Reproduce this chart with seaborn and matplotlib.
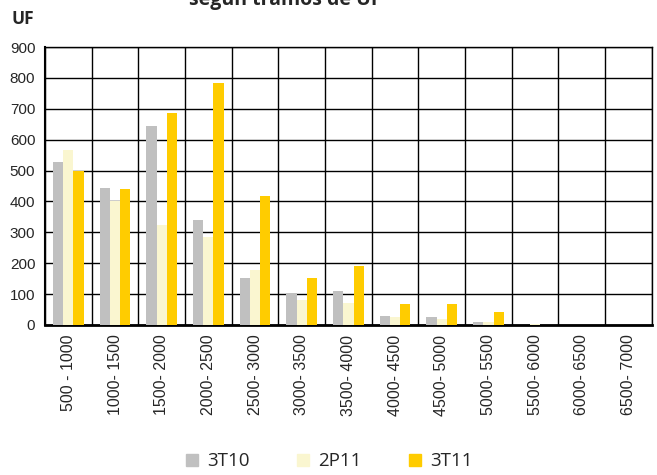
import pandas as pd
import matplotlib.pyplot as plt
import seaborn as sns
import numpy as np

tramos = ["500 - 1000", "1000- 1500", "1500- 2000", "2000- 2500", "2500- 3000",
          "3000- 3500", "3500- 4000", "4000- 4500", "4500- 5000", "5000- 5500",
          "5500- 6000", "6000- 6500", "6500- 7000"]
v_3t10 = [526, 443, 644, 341, 151, 103, 110, 28, 24, 11, 0, 0, 1]
v_2p11 = [565, 400, 324, 286, 179, 81, 70, 27, 19, 9, 3, 1, 1]
v_3t11 = [499, 440, 687, 782, 416, 151, 191, 68, 67, 42, 0, 0, 0]
series = ["3T10", "2P11", "3T11"]
colors = ["#C0C0C0", "#FAF6D0", "#FFCC00"]

df = pd.DataFrame({"tramo": tramos * 3,
                   "serie": np.repeat(series, len(tramos)),
                   "uf": v_3t10 + v_2p11 + v_3t11})

sns.set_style("white")
plt.rcParams['font.family'] = ['Liberation Sans', 'DejaVu Sans']

fig = plt.figure(figsize=(6.57, 4.75), dpi=100)
ax = fig.add_axes([0.0685, 0.316, 0.9235, 0.585])

sns.barplot(data=df, x="tramo", y="uf", hue="serie", palette=colors,
            width=0.66, gap=0, saturation=1, linewidth=0, ax=ax, legend=False, zorder=3)

ax.set_xlim(-0.5, len(tramos) - 0.5)
ax.set_ylim(0, 900)
ax.set_yticks(range(0, 901, 100))
ax.set_xticks(np.arange(-0.5, len(tramos), 1), minor=True)
ax.grid(True, which="minor", axis="x", color="black", lw=1, zorder=0)
ax.grid(True, which="major", axis="y", color="black", lw=1, zorder=0)
ax.tick_params(axis="x", which="major", length=0, labelsize=11.5, rotation=90, pad=7)
ax.tick_params(axis="x", which="minor", length=4, direction="out", color="black", width=1)
ax.tick_params(axis="y", length=4, direction="out", color="black", labelsize=11, pad=3)
for s in ax.spines.values():
    s.set_color("black")
    s.set_linewidth(1)
ax.spines["left"].set_linewidth(1.5)
ax.spines["bottom"].set_linewidth(2)
ax.set_xlabel("")
ax.set_ylabel("")

fig.text(0.434, 0.989, "según tramos de UF", ha="center", va="baseline",
         fontsize=14, fontweight="bold", family=["Open Sans", "DejaVu Sans"])
fig.text(0.017, 0.96, "UF", ha="left", va="center", fontsize=12.5,
         fontweight="bold", family=["Open Sans", "DejaVu Sans"])

handles = [plt.Line2D([], [], marker="s", ls="", markersize=9, color=c) for c in colors]
fig.legend(handles, series, loc="lower center", bbox_to_anchor=(0.497, -0.026), ncol=3,
           frameon=False, handletextpad=0.2, columnspacing=2.25, handlelength=1.2,
           prop={"family": ["Open Sans", "DejaVu Sans"], "size": 13.5})

fig.savefig("out.png", dpi=100)
